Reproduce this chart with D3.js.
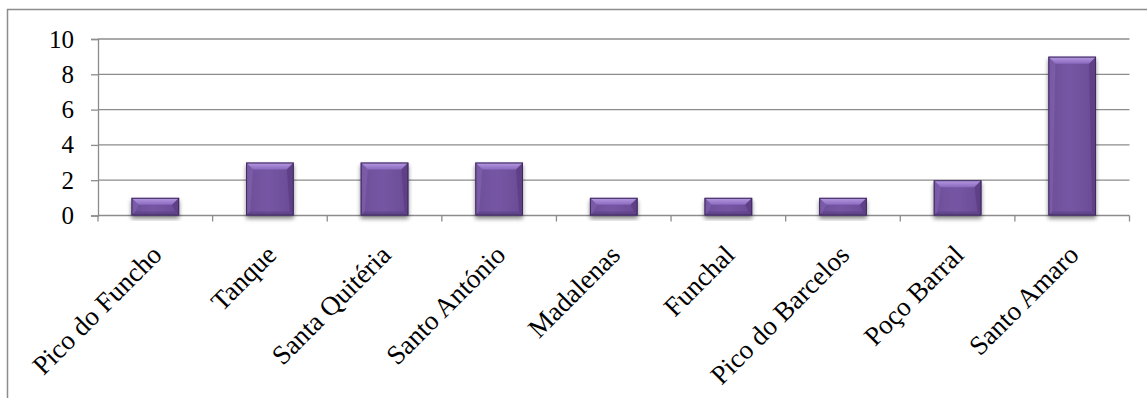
<!DOCTYPE html>
<html>
<head>
<meta charset="utf-8">
<script src="https://cdn.jsdelivr.net/npm/d3@7"></script>
<style>
  html, body { margin: 0; padding: 0; background: #fff; }
  svg { display: block; }
</style>
</head>
<body>
<svg id="chart" width="1147" height="398"></svg>
<script>
// Number of occurrences per locality
const categories = ["Pico do Funcho", "Tanque", "Santa Quitéria", "Santo António", "Madalenas", "Funchal", "Pico do Barcelos", "Poço Barral", "Santo Amaro"];
const values = [1, 3, 3, 3, 1, 1, 1, 2, 9];
const yTicks = [0, 2, 4, 6, 8, 10];

const svg = d3.select("#chart");
const W = 1147, H = 398;
const font = "'Liberation Serif', 'Times New Roman', serif";

// outer chart frame
svg.append("rect")
  .attr("x", 7.5).attr("y", 9.5)
  .attr("width", W + 10).attr("height", H + 10)
  .attr("fill", "#fff").attr("stroke", "#8c8c8c").attr("stroke-width", 1.5);

const plot = { left: 98, right: 1129.5, top: 39, bottom: 215.5 };

const x = d3.scaleBand().domain(categories).range([plot.left, plot.right]).paddingInner(0.584).paddingOuter(0.292);
const xTickScale = d3.scaleBand().domain(categories).range([plot.left, plot.right]);
const y = d3.scaleLinear().domain([0, 10]).range([plot.bottom, plot.top]);

const defs = svg.append("defs");
const shadow = defs.append("filter").attr("id", "shadow")
  .attr("x", "-30%").attr("y", "-30%").attr("width", "160%").attr("height", "160%");
shadow.append("feGaussianBlur").attr("in", "SourceAlpha").attr("stdDeviation", 2.2).attr("result", "b");
shadow.append("feOffset").attr("in", "b").attr("dx", 0).attr("dy", 3).attr("result", "o");
shadow.append("feComponentTransfer").attr("in", "o").attr("result", "s")
  .append("feFuncA").attr("type", "linear").attr("slope", 0.45);
const merge = shadow.append("feMerge");
merge.append("feMergeNode").attr("in", "s");
merge.append("feMergeNode").attr("in", "SourceGraphic");

const bodyGrad = defs.append("linearGradient").attr("id", "bodyGrad")
  .attr("x1", 0).attr("x2", 1).attr("y1", 0).attr("y2", 0);
bodyGrad.append("stop").attr("offset", "0%").attr("stop-color", "#6d4e98");
bodyGrad.append("stop").attr("offset", "45%").attr("stop-color", "#7656a4");
bodyGrad.append("stop").attr("offset", "100%").attr("stop-color", "#6a4b95");

const topGrad = defs.append("linearGradient").attr("id", "topGrad")
  .attr("x1", 0).attr("x2", 0).attr("y1", 0).attr("y2", 1);
topGrad.append("stop").attr("offset", "0%").attr("stop-color", "#b89de3");
topGrad.append("stop").attr("offset", "100%").attr("stop-color", "#8a69be");

// gridlines
const grid = svg.append("g");
grid.selectAll("line").data(yTicks.filter(d => d > 0)).join("line")
  .attr("x1", plot.left).attr("x2", plot.right)
  .attr("y1", d => y(d)).attr("y2", d => y(d))
  .attr("stroke", "#8c8c8c").attr("stroke-width", 1.3);

// y axis
const yAxis = svg.append("g").attr("transform", `translate(${plot.left},0)`)
  .call(d3.axisLeft(y).tickValues(yTicks).tickSize(7).tickPadding(17));
yAxis.select(".domain").attr("stroke", "#8c8c8c").attr("stroke-width", 1.3);
yAxis.selectAll(".tick line").attr("stroke", "#8c8c8c").attr("stroke-width", 1.3);
yAxis.selectAll(".tick text").attr("font-family", font).attr("font-size", 25).attr("fill", "#000");

// x axis baseline and category separators
const xAxis = svg.append("g").attr("transform", `translate(0,${plot.bottom})`);
xAxis.append("line").attr("x1", plot.left).attr("x2", plot.right)
  .attr("stroke", "#8c8c8c").attr("stroke-width", 1.3);
const boundaries = categories.map(c => xTickScale(c) + xTickScale.bandwidth()).concat([xTickScale(categories[0])]);
xAxis.selectAll(".sep").data(boundaries).join("line").attr("class", "sep")
  .attr("x1", d => d).attr("x2", d => d).attr("y1", 0).attr("y2", 6)
  .attr("stroke", "#8c8c8c").attr("stroke-width", 1.3);

// bevelled bars
const bev = 7, side = 4;
const bars = svg.append("g").selectAll("g").data(categories.map((c, i) => ({ c, v: values[i] }))).join("g")
  .attr("filter", "url(#shadow)");
bars.append("rect")
  .attr("x", d => x(d.c)).attr("y", d => y(d.v))
  .attr("width", x.bandwidth()).attr("height", d => y(0) - y(d.v))
  .attr("fill", "url(#bodyGrad)");
// top facet
bars.append("path").attr("d", d => {
  const x0 = x(d.c), x1 = x0 + x.bandwidth(), t = y(d.v);
  return `M${x0},${t}L${x1},${t}L${x1 - bev},${t + bev}L${x0 + bev},${t + bev}Z`;
}).attr("fill", "url(#topGrad)");
// left facet
bars.append("path").attr("d", d => {
  const x0 = x(d.c), t = y(d.v), b = y(0);
  return `M${x0},${t}L${x0 + bev},${t + bev}L${x0 + side},${b - side}L${x0},${b}Z`;
}).attr("fill", "#8465b3").attr("opacity", 0.55);
// right facet
bars.append("path").attr("d", d => {
  const x1 = x(d.c) + x.bandwidth(), t = y(d.v), b = y(0);
  return `M${x1},${t}L${x1 - bev},${t + bev}L${x1 - side},${b - side}L${x1},${b}Z`;
}).attr("fill", "#55397c").attr("opacity", 0.55);
// bottom facet
bars.append("path").attr("d", d => {
  const x0 = x(d.c), x1 = x0 + x.bandwidth(), b = y(0);
  return `M${x0},${b}L${x0 + side},${b - side}L${x1 - side},${b - side}L${x1},${b}Z`;
}).attr("fill", "#5a3f82").attr("opacity", 0.6);
// dark outline
bars.append("rect")
  .attr("x", d => x(d.c) + 0.5).attr("y", d => y(d.v) + 0.5)
  .attr("width", x.bandwidth() - 1).attr("height", d => y(0) - y(d.v) - 1)
  .attr("fill", "none").attr("stroke", "#3f2b5c").attr("stroke-width", 1);

// rotated category labels
svg.append("g").selectAll("text").data(categories).join("text")
  .attr("transform", c => `translate(${x(c) + x.bandwidth() / 2 + 8},${plot.bottom + 41}) rotate(-45)`)
  .attr("text-anchor", "end")
  .attr("font-family", font).attr("font-size", 27).attr("fill", "#000")
  .text(c => c);
</script>
</body>
</html>
